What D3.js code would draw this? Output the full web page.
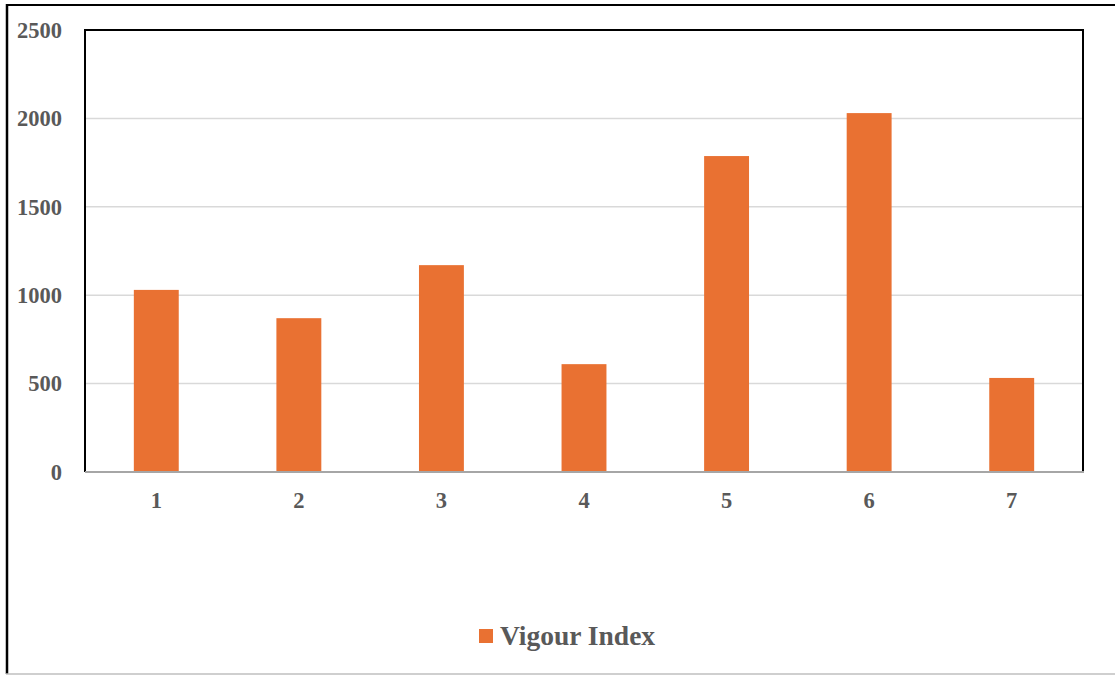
<!DOCTYPE html>
<html>
<head>
<meta charset="utf-8">
<script src="https://cdn.jsdelivr.net/npm/d3@7"></script>
<style>
  html, body { margin: 0; padding: 0; background: #fff; }
  svg { display: block; }
</style>
</head>
<body>
<svg id="chart" width="1115" height="675"></svg>
<script>
// Vigour index per treatment
const categories = ["1", "2", "3", "4", "5", "6", "7"];
const vigourIndex = [1030, 870, 1170, 610, 1787, 2030, 532];
const yTicks = [0, 500, 1000, 1500, 2000, 2500];
const seriesName = "Vigour Index";

const W = 1115, H = 675;
const plot = { left: 85, top: 30, right: 1083, bottom: 472 };
const barColor = "#E97132";
const textColor = "#595959";
const font = "'Liberation Serif', 'Times New Roman', serif";

const svg = d3.select("#chart");

// outer chart frame
svg.append("rect").attr("x", 0).attr("y", 0).attr("width", W).attr("height", H).attr("fill", "#fff");
svg.append("line").attr("x1", 7).attr("x2", 7).attr("y1", 4).attr("y2", 674)
  .attr("stroke", "#000").attr("stroke-width", 2.5);
svg.append("line").attr("x1", 6).attr("x2", W).attr("y1", 5).attr("y2", 5)
  .attr("stroke", "#000").attr("stroke-width", 2);
svg.append("line").attr("x1", 6).attr("x2", W).attr("y1", 674).attr("y2", 674)
  .attr("stroke", "#BFBFBF").attr("stroke-width", 1.5);

const x = d3.scaleBand().domain(categories).range([plot.left, plot.right]).paddingInner(0.685).paddingOuter(0.3425);
const y = d3.scaleLinear().domain([0, 2500]).range([plot.bottom, plot.top]);

// gridlines
svg.append("g").selectAll("line").data(yTicks.filter(t => t > 0 && t < 2500)).join("line")
  .attr("x1", plot.left).attr("x2", plot.right)
  .attr("y1", d => y(d)).attr("y2", d => y(d))
  .attr("stroke", "#D9D9D9").attr("stroke-width", 1.5);

// bars
svg.append("g").selectAll("rect").data(vigourIndex).join("rect")
  .attr("x", (d, i) => x(categories[i]))
  .attr("width", x.bandwidth())
  .attr("y", d => y(d))
  .attr("height", d => y(0) - y(d))
  .attr("fill", barColor);

// plot-area border (left, top, right) and category axis line
svg.append("path")
  .attr("d", `M${plot.left},${plot.bottom} V${plot.top} H${plot.right} V${plot.bottom}`)
  .attr("fill", "none").attr("stroke", "#000").attr("stroke-width", 2);
svg.append("line").attr("x1", plot.left).attr("x2", plot.right + 1)
  .attr("y1", plot.bottom).attr("y2", plot.bottom)
  .attr("stroke", "#A6A6A6").attr("stroke-width", 2);

// y axis labels
const yAxis = d3.axisLeft(y).tickValues(yTicks).tickFormat(d3.format("d")).tickSize(0).tickPadding(23);
const gy = svg.append("g").attr("transform", `translate(${plot.left},0)`).call(yAxis);
gy.select(".domain").remove();
gy.selectAll("text").attr("font-family", font).attr("font-weight", "bold")
  .attr("font-size", 22.5).attr("fill", textColor);

// x axis labels
const xAxis = d3.axisBottom(x).tickSize(0).tickPadding(20);
const gx = svg.append("g").attr("transform", `translate(0,${plot.bottom})`).call(xAxis);
gx.select(".domain").remove();
gx.selectAll("text").attr("font-family", font).attr("font-weight", "bold")
  .attr("font-size", 22.5).attr("fill", textColor);

// legend
const lg = svg.append("g");
lg.append("rect").attr("x", 479).attr("y", 629).attr("width", 14).attr("height", 14).attr("fill", barColor);
lg.append("text").attr("x", 500).attr("y", 645).text(seriesName)
  .attr("font-family", font).attr("font-weight", "bold").attr("font-size", 27.5).attr("fill", textColor);
</script>
</body>
</html>
